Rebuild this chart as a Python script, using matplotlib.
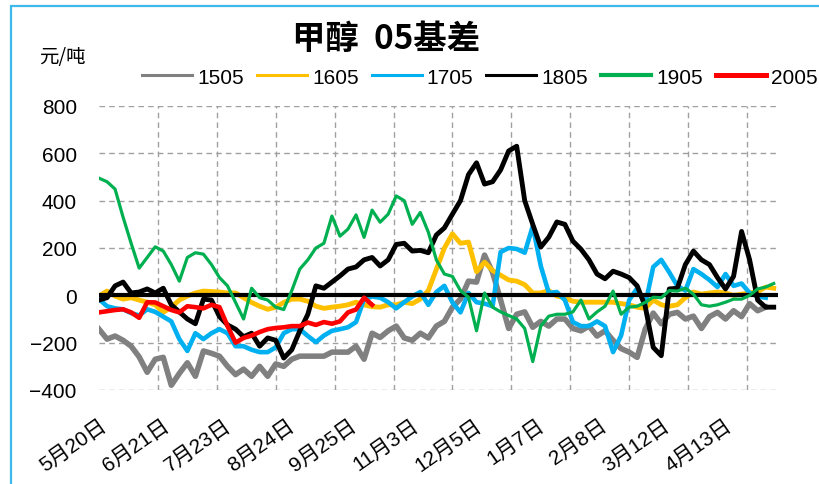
import numpy as np
import matplotlib.pyplot as plt
from matplotlib.patches import Rectangle

plt.rcParams['font.family'] = ['Liberation Sans', 'Noto Sans CJK SC']
plt.rcParams['axes.unicode_minus'] = True

# 基差数据, 每3个交易日取一个点 (元/吨)
step = 3
s1505 = [-143, -185, -172, -190, -215, -260, -325, -270, -262, -380,
         -330, -285, -342, -235, -245, -257, -300, -335, -312, -342,
         -300, -342, -290, -300, -270, -257, -257, -257, -257, -240,
         -240, -240, -215, -270, -160, -178, -150, -130, -180, -190,
         -160, -180, -130, -110, -50, -16, 60, 56, 170, 97,
         -20, -140, -80, -70, -135, -110, -130, -100, -100, -140,
         -150, -130, -172, -150, -190, -225, -240, -262, -143, -75,
         -120, -80, -72, -100, -88, -140, -90, -72, -100, -65,
         -90, -35, -65, -50]
s1605 = [-3, 18, -3, -16, -10, -20, -29, -40, -72, -50,
         -20, -3, 10, 18, 16, 14, 10, 10, -10, -30,
         -46, -59, -50, -30, -16, -16, -25, -46, -55, -50,
         -46, -40, -29, -40, -48, -50, -40, -40, -29, -35,
         -16, 20, 110, 200, 260, 220, 225, 100, 140, 105,
         85, 65, 60, 45, 10, 10, 20, -3, -10, -25,
         -29, -29, -29, -29, -29, -35, -40, -50, -55, -20,
         -40, -46, -40, -10, 14, 5, 10, 14, 10, 0,
         5, 10, 15, 35, 30]
s1705 = [-16, -46, -55, -59, -75, -85, -59, -70, -90, -110,
         -185, -235, -160, -185, -160, -143, -160, -215, -215, -230,
         -240, -240, -220, -160, -143, -143, -172, -198, -170, -150,
         -143, -135, -113, -16, -5, -10, -29, -55, -29, -5,
         14, -40, 14, 40, -30, -72, 10, -29, -35, -46,
         183, 200, 196, 180, 292, 124, 10, 14, -20, -113,
         -130, -130, -110, -130, -240, -170, -20, 30, -40, 120,
         150, 97, 40, 20, 111, 90, 65, 35, 90, 40,
         50, 10, -5, -10]
s1805 = [-20, -10, 40, 56, 10, 14, 27, 10, 30, -40,
         -70, -100, -120, -16, -20, -90, -125, -143, -175, -160,
         -215, -180, -190, -265, -230, -150, -80, 40, 30, 56,
         82, 111, 120, 150, 160, 124, 150, 215, 220, 187,
         190, 180, 255, 285, 343, 400, 510, 560, 470, 480,
         530, 610, 630, 400, 300, 204, 246, 310, 300, 229,
         195, 150, 90, 70, 102, 90, 75, 40, -46, -220,
         -255, 27, 30, 130, 187, 150, 130, 75, 27, 80,
         270, 150, -20, -50, -50]
s1905 = [495, 480, 449, 330, 220, 115, 160, 205, 187, 130,
         60, 160, 180, 174, 130, 75, 40, -30, -100, 30,
         -10, -20, -50, -60, 20, 111, 150, 200, 220, 335,
         250, 280, 340, 245, 360, 309, 343, 420, 400, 300,
         350, 267, 150, 90, 80, 20, -8, -150, 10, -50,
         -70, -85, -100, -140, -280, -130, -88, -80, -80, -70,
         -20, -100, -70, -46, 18, -80, -50, -46, -30, -8,
         -10, 20, 18, 30, 5, -40, -46, -40, -29, -16,
         -16, 0, 27, 35, 50]
s2005 = [-72, -67, -62, -59, -72, -95, -29, -30, -46, -62,
         -72, -46, -50, -55, -40, -50, -130, -200, -180, -170,
         -155, -143, -138, -135, -130, -130, -115, -125, -113, -120,
         -110, -72, -60, -10, -40]

names = ['1505', '1605', '1705', '1805', '1905', '2005']
colors = ['#808080', '#FFC000', '#00B0F0', '#000000', '#00B050', '#FF0000']
widths = [4.0, 3.5, 3.3, 3.5, 2.3, 3.3]
xlabels = ['5月20日', '6月21日', '7月23日', '8月24日', '9月25日', '11月3日',
           '12月5日', '1月7日', '2月8日', '3月12日', '4月13日']

fig = plt.figure(figsize=(8.2, 4.85), dpi=100)
ax = fig.add_axes([99 / 820, 1 - 391 / 485, 679 / 820, 284 / 485])

series = [s1505, s1605, s1705, s1805, s1905, s2005]
zs = [2.1, 2.2, 2.3, 2.6, 2.7, 2.8]
for s, n, c, w, z in zip(series, names, colors, widths, zs):
    x = np.arange(len(s)) * step
    ax.plot(x, s, color=c, lw=w, label=n, zorder=z, solid_joinstyle='round')

ax.axhline(0, color='black', lw=3, zorder=2.5)

ax.set_xlim(0, 253.6)
ax.set_ylim(-400, 800)
ax.set_yticks(np.arange(-400, 801, 200))
ax.set_xticks(np.arange(len(xlabels)) * 23.35)
ax.set_xticklabels(xlabels, rotation=35, ha='right', va='top',
                   rotation_mode='anchor')
ax.set_xticks(np.arange(12) * 22, minor=True)
ax.tick_params(axis='both', which='both', length=0, labelsize=15)
ax.tick_params(axis='y', pad=16)
ax.tick_params(axis='x', pad=18)
ax.grid(which='minor', axis='x', color='#A0A0A0', ls=(0, (4, 3)), lw=1)
ax.grid(which='major', axis='y', color='#A0A0A0', ls=(0, (4, 3)), lw=1)
ax.grid(which='major', axis='x', visible=False)
for sp in ax.spines.values():
    sp.set_visible(False)

fig.text(386 / 820, 1 - 39 / 485, '甲醇  05基差', ha='center', va='center',
         fontsize=24, fontweight='bold', family=['Noto Sans CJK SC'])
fig.text(62 / 820, 1 - 57 / 485, '元/吨', ha='center', va='center',
         fontsize=14, family=['Noto Sans CJK SC'])

leg = fig.legend(loc='center left', bbox_to_anchor=(142 / 820, 1 - 78 / 485),
                 ncol=6, frameon=False, fontsize=15, handlelength=2.4,
                 handletextpad=0.25, columnspacing=0.62, borderpad=0,
                 borderaxespad=0)
lw_leg = [2.2, 2.2, 2.2, 2.2, 3.0, 3.6]
for h, w in zip(leg.get_lines(), lw_leg):
    h.set_linewidth(w)

# 外框
fig.patches.append(Rectangle((11 / 820, -0.1), 1.0, 1 - 7 / 485 + 0.1,
                             transform=fig.transFigure, fill=False,
                             edgecolor='#3DB9EC', lw=1.6))

fig.savefig('out.png', dpi=100)
